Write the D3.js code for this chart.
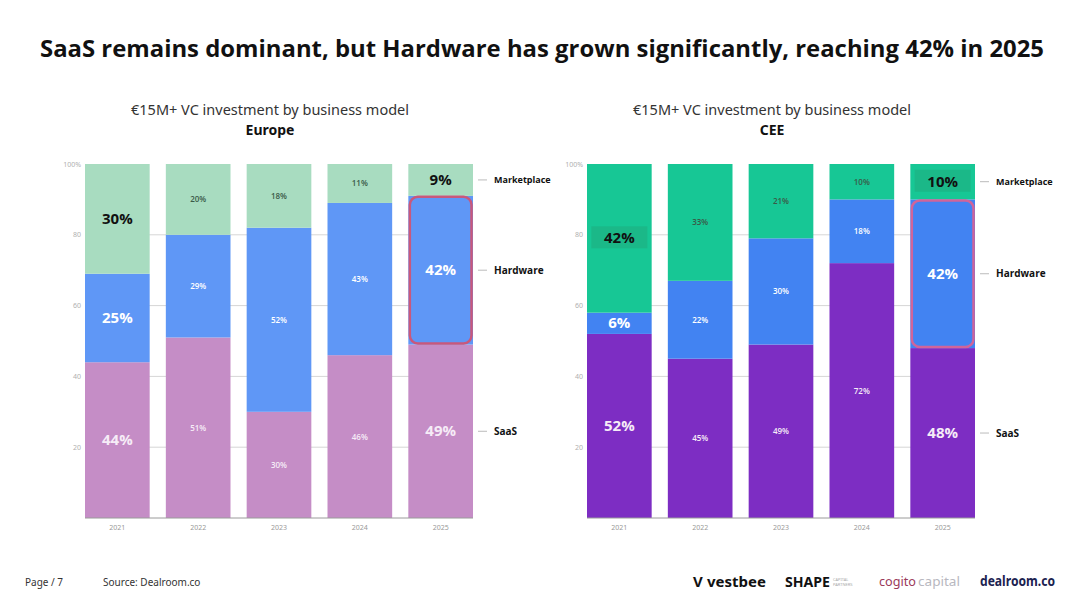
<!DOCTYPE html>
<html>
<head>
<meta charset="utf-8">
<script src="https://cdn.jsdelivr.net/npm/d3@7"></script>
<style>
  html, body { margin: 0; padding: 0; background: #fff; }
  svg { display: block; }
</style>
</head>
<body>
<div id="chart"></div>
<script>
const years = ['2021', '2022', '2023', '2024', '2025'];
const segments = ['SaaS', 'Hardware', 'Marketplace'];

const europeSaas = [44, 51, 30, 46, 49];
const europeHardware = [25, 29, 52, 43, 42];
const europeMarketplace = [30, 20, 18, 11, 9];

const ceeSaas = [52, 45, 49, 72, 48];
const ceeHardware = [6, 22, 30, 18, 42];
const ceeMarketplace = [42, 33, 21, 10, 10];

const yTicks = [20, 40, 60, 80, 100];
const yTickLabels = ['20', '40', '60', '80', '100%'];

const W = 1080, H = 608;
const svg = d3.select('#chart').append('svg')
    .attr('width', W)
    .attr('height', H)
    .attr('viewBox', `0 0 ${W} ${H}`);

// Title
svg.append('text')
    .attr('x', 542)
    .attr('y', 57)
    .attr('text-anchor', 'middle')
    .attr('textLength', 1004)
    .attr('lengthAdjust', 'spacingAndGlyphs')
    .style('font-family', '"Open Sans", sans-serif')
    .style('font-weight', 'bold')
    .style('font-size', '24px')
    .style('fill', '#111')
    .text('SaaS remains dominant, but Hardware has grown significantly, reaching 42% in 2025');

function createPanel(opts) {
    const { left, right, top, bottom, region, saas, hardware, marketplace, colors, boxColor, labelBg } = opts;

    const rows = years.map((yr, i) => ({
        year: yr,
        SaaS: saas[i],
        Hardware: hardware[i],
        Marketplace: marketplace[i]
    }));

    const x = d3.scaleBand()
        .domain(years)
        .range([left, right])
        .paddingInner(0.2)
        .paddingOuter(0);

    const y = d3.scaleLinear()
        .domain([0, 100])
        .range([bottom, top]);

    const g = svg.append('g');
    const cx = (left + right) / 2;

    // Subtitle
    g.append('text')
        .attr('x', cx - 9)
        .attr('y', 115)
        .attr('text-anchor', 'middle')
        .attr('textLength', 278)
        .attr('lengthAdjust', 'spacingAndGlyphs')
        .style('font-family', '"Noto Sans", sans-serif')
        .style('font-size', '14px')
        .style('fill', '#333')
        .text('€15M+ VC investment by business model');

    g.append('text')
        .attr('x', cx - 9)
        .attr('y', 135)
        .attr('text-anchor', 'middle')
        .style('font-family', '"Noto Sans", sans-serif')
        .style('font-weight', 'bold')
        .style('font-size', '14px')
        .style('fill', '#111')
        .text(region);

    // Gridlines
    g.selectAll('.grid')
        .data(yTicks.slice(0, -1))
        .enter()
        .append('line')
        .attr('x1', left)
        .attr('x2', right)
        .attr('y1', d => y(d))
        .attr('y2', d => y(d))
        .attr('stroke', '#d6d6d6')
        .attr('stroke-width', 1);

    // Y tick labels
    g.selectAll('.ytick')
        .data(yTicks)
        .enter()
        .append('text')
        .attr('x', left - 4)
        .attr('y', d => y(d) + 2.5)
        .attr('text-anchor', 'end')
        .style('font-family', '"Noto Sans", sans-serif')
        .style('font-size', '7px')
        .style('fill', '#b0b0b0')
        .text((d, i) => yTickLabels[i]);

    const stack = d3.stack().keys(segments);
    const series = stack(rows);

    // Bars (top segment fills to 100%)
    series.forEach((s, si) => {
        g.selectAll(`.seg-${si}`)
            .data(s)
            .enter()
            .append('rect')
            .attr('x', d => x(d.data.year))
            .attr('width', x.bandwidth())
            .attr('y', d => y(si === segments.length - 1 ? 100 : d[1]))
            .attr('height', d => y(d[0]) - y(si === segments.length - 1 ? 100 : d[1]))
            .attr('fill', colors[si]);
    });

    // Bottom axis line
    g.append('line')
        .attr('x1', left)
        .attr('x2', right)
        .attr('y1', y(0))
        .attr('y2', y(0))
        .attr('stroke', '#9a9a9a')
        .attr('stroke-width', 1);

    // Year labels
    g.selectAll('.year')
        .data(years)
        .enter()
        .append('text')
        .attr('x', d => x(d) + x.bandwidth() / 2)
        .attr('y', bottom + 12)
        .attr('text-anchor', 'middle')
        .style('font-family', '"Noto Sans", sans-serif')
        .style('font-size', '7px')
        .style('fill', '#999')
        .text(d => d);

    // Highlight box around 2025 hardware
    const last = years[years.length - 1];
    const hw = series[1][years.length - 1];
    g.append('rect')
        .attr('x', x(last) + 1.5)
        .attr('y', y(hw[1]) + 1)
        .attr('width', x.bandwidth() - 3)
        .attr('height', y(hw[0]) - y(hw[1]) - 2)
        .attr('rx', 8)
        .attr('fill', 'none')
        .attr('stroke', boxColor)
        .attr('stroke-width', 2.5);

    // Value labels
    series.forEach((s, si) => {
        s.forEach((d, i) => {
            const big = i === 0 || i === years.length - 1;
            const top = si === segments.length - 1 ? 100 : d[1];
            const ly = y((d[0] + top) / 2);
            const lx = x(d.data.year) + x.bandwidth() / 2;
            const val = d.data[segments[si]];
            const isMp = si === segments.length - 1;
            if (big && isMp && labelBg) {
                g.append('rect')
                    .attr('x', lx - 28)
                    .attr('y', ly - 12)
                    .attr('width', 56)
                    .attr('height', 22)
                    .attr('fill', labelBg);
            }
            g.append('text')
                .attr('x', lx)
                .attr('y', ly + (big ? 5 : 3))
                .attr('text-anchor', 'middle')
                .style('font-family', '"Open Sans", sans-serif')
                .style('font-weight', big ? 'bold' : '600')
                .style('font-size', big ? '15px' : '8px')
                .style('fill', isMp ? (big ? '#111' : '#3a5a48') : (si === 0 ? '#f6ecf7' : '#fff'))
                .text(val + '%');
        });
    });

    // Right-side series labels with leader lines
    const lastIdx = years.length - 1;
    series.forEach((s, si) => {
        const d = s[lastIdx];
        const top = si === segments.length - 1 ? 100 : d[1];
        const ly = y((d[0] + top) / 2);
        g.append('line')
            .attr('x1', right + 5)
            .attr('x2', right + 14)
            .attr('y1', ly)
            .attr('y2', ly)
            .attr('stroke', '#bbb')
            .attr('stroke-width', 1);
        g.append('text')
            .attr('x', right + 21)
            .attr('y', ly + 3.5)
            .style('font-family', '"Open Sans", sans-serif')
            .style('font-weight', 'bold')
            .style('font-size', si === 2 ? '9px' : '10px')
            .style('fill', '#111')
            .text(segments[si]);
    });
}

createPanel({
    left: 85, right: 473, top: 164, bottom: 518,
    region: 'Europe',
    saas: europeSaas, hardware: europeHardware, marketplace: europeMarketplace,
    colors: ['#c58dc6', '#5f97f6', '#a8dcc0'],
    boxColor: '#c9587c',
    labelBg: null
});

createPanel({
    left: 587, right: 975, top: 164, bottom: 518,
    region: 'CEE',
    saas: ceeSaas, hardware: ceeHardware, marketplace: ceeMarketplace,
    colors: ['#7d2dc3', '#4283f2', '#17c795'],
    boxColor: '#d0649a',
    labelBg: '#1bb888'
});

// Footer
const footer = svg.append('g').style('font-family', '"Noto Sans", sans-serif');
footer.append('text')
    .attr('x', 25).attr('y', 586)
    .style('font-size', '10px').style('fill', '#333')
    .text('Page / 7');
footer.append('text')
    .attr('x', 103).attr('y', 586)
    .style('font-size', '10px').style('fill', '#333')
    .text('Source:  Dealroom.co');

// Partner logos as text
footer.append('text')
    .attr('x', 693).attr('y', 587)
    .style('font-size', '15px').style('font-weight', 'bold').style('fill', '#111')
    .text('V');
footer.append('text')
    .attr('x', 707).attr('y', 587)
    .style('font-size', '14px').style('font-weight', 'bold').style('fill', '#111')
    .attr('textLength', 59).attr('lengthAdjust', 'spacingAndGlyphs')
    .text('vestbee');
footer.append('text')
    .attr('x', 785).attr('y', 587)
    .style('font-size', '14px').style('font-weight', 'bold').style('fill', '#111')
    .attr('textLength', 45).attr('lengthAdjust', 'spacingAndGlyphs')
    .text('SHAPE');
footer.append('text')
    .attr('x', 833).attr('y', 581)
    .style('font-size', '4px').style('fill', '#aaa')
    .text('CAPITAL');
footer.append('text')
    .attr('x', 833).attr('y', 586)
    .style('font-size', '4px').style('fill', '#aaa')
    .text('PARTNERS');
footer.append('text')
    .attr('x', 879).attr('y', 586)
    .style('font-size', '13px').style('fill', '#9b3a5a')
    .attr('textLength', 37).attr('lengthAdjust', 'spacingAndGlyphs')
    .text('cogito');
footer.append('text')
    .attr('x', 918).attr('y', 586)
    .style('font-size', '13px').style('fill', '#b8b8c0')
    .attr('textLength', 42).attr('lengthAdjust', 'spacingAndGlyphs')
    .text('capital');
footer.append('text')
    .attr('x', 980).attr('y', 586)
    .style('font-size', '14px').style('font-weight', 'bold').style('fill', '#1b2250')
    .attr('textLength', 75).attr('lengthAdjust', 'spacingAndGlyphs')
    .text('dealroom.co');
</script>
</body>
</html>
